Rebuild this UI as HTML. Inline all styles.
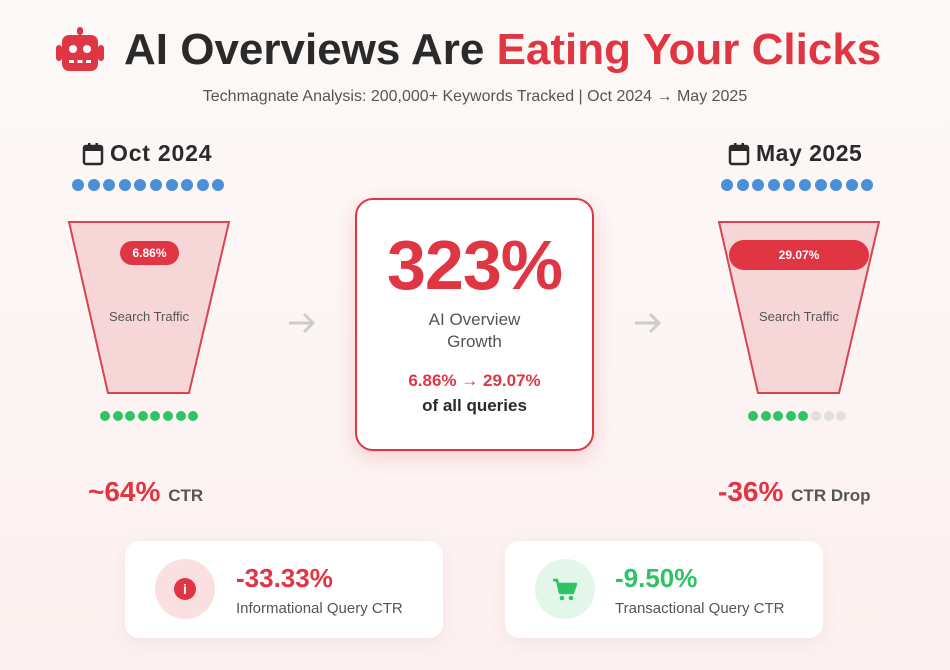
<!DOCTYPE html>
<html><head><meta charset="utf-8"><style>
*{margin:0;padding:0;box-sizing:border-box}
body{width:950px;height:670px;overflow:hidden;font-family:"Liberation Sans",sans-serif;background:linear-gradient(#fcf9f7,#fcf1f0);position:relative}
.a{position:absolute;white-space:nowrap}
.red{color:#e03644}
.dots{position:absolute;display:flex}
.dots i{display:block;border-radius:50%}
.b i{width:12px;height:12px;margin-right:3.6px;background:#4a90d9}
.g i{width:10px;height:10px;margin-right:2.6px;background:#2ec464}
.g i.x{background:#e0e0e0}
.card{position:absolute;background:#fff;border-radius:14px;box-shadow:0 4px 16px rgba(200,150,150,.15)}
</style></head><body>
<svg class="a" style="left:55px;top:27px" width="50" height="50" viewBox="0 0 50 50">
<rect x="22" y="0" width="6" height="8" rx="3" fill="#e03644"/>
<rect x="7" y="8" width="36" height="36" rx="7" fill="#e03644"/>
<rect x="1" y="18" width="6" height="16" rx="3" fill="#e03644"/><rect x="43" y="18" width="6" height="16" rx="3" fill="#e03644"/>
<circle cx="18" cy="22" r="4" fill="#fff"/><circle cx="32" cy="22" r="4" fill="#fff"/>
<rect x="14" y="33" width="5" height="3" fill="#fff"/><rect x="22.5" y="33" width="5" height="3" fill="#fff"/><rect x="31" y="33" width="5" height="3" fill="#fff"/>
</svg>
<div class="a" style="left:124px;top:25px;font-size:44px;font-weight:bold;color:#2a2a2a">AI Overviews Are <span class="red">Eating Your Clicks</span></div>
<div class="a" style="left:0;width:950px;text-align:center;top:88px;font-size:16px;color:#555">Techmagnate Analysis: 200,000+ Keywords Tracked | Oct 2024 → May 2025</div>

<svg class="a" style="left:82px;top:142px" width="22" height="24" viewBox="0 0 22 24"><rect x="2" y="4" width="18" height="18" rx="2" fill="none" stroke="#2a2a2a" stroke-width="2.5"/><rect x="2" y="4" width="18" height="5" fill="#2a2a2a"/><rect x="6" y="1" width="2.5" height="5" fill="#2a2a2a"/><rect x="13.5" y="1" width="2.5" height="5" fill="#2a2a2a"/></svg>
<div class="a" style="left:110px;top:140px;font-size:23px;font-weight:bold;color:#2a2a2a;letter-spacing:.8px">Oct 2024</div>
<div class="dots b" style="left:72px;top:179px"><i></i><i></i><i></i><i></i><i></i><i></i><i></i><i></i><i></i><i></i></div>
<svg class="a" style="left:0;top:0" width="950" height="670">
<polygon points="69,222 229,222 189,393 108,393" fill="#f7d6d8" stroke="#d84450" stroke-width="2"/>
<polygon points="719,222 879,222 839,393 758,393" fill="#f7d6d8" stroke="#d84450" stroke-width="2"/>
<path d="M289 323h24m-9-9l9 9-9 9" fill="none" stroke="#ccc" stroke-width="3"/>
<path d="M635 323h24m-9-9l9 9-9 9" fill="none" stroke="#ccc" stroke-width="3"/>
</svg>
<div class="a" style="left:120px;top:241px;width:59px;height:24px;border-radius:12px;background:#e03644;color:#fff;font-size:12px;font-weight:bold;text-align:center;line-height:24px">6.86%</div>
<div class="a" style="left:69px;width:160px;text-align:center;top:309px;font-size:13px;color:#555">Search Traffic</div>
<div class="dots g" style="left:100px;top:411px"><i></i><i></i><i></i><i></i><i></i><i></i><i></i><i></i></div>
<div class="a" style="left:88px;top:476px;font-size:28px;font-weight:bold" ><span class="red">~64%</span> <span style="font-size:17px;color:#555">CTR</span></div>

<div class="a" style="left:355px;top:198px;width:239px;height:253px;border:2px solid #e03644;border-radius:18px;background:#fff;box-shadow:0 6px 20px rgba(224,54,68,.2)"></div>
<div class="a red" style="left:355px;width:239px;text-align:center;top:225px;font-size:70px;font-weight:bold;letter-spacing:-1px">323%</div>
<div class="a" style="left:355px;width:239px;text-align:center;top:309px;font-size:17px;color:#555;line-height:22px;white-space:normal">AI Overview<br>Growth</div>
<div class="a red" style="left:355px;width:239px;text-align:center;top:371px;font-size:17px;font-weight:bold">6.86% → 29.07%</div>
<div class="a" style="left:355px;width:239px;text-align:center;top:396px;font-size:17px;font-weight:bold;color:#2a2a2a">of all queries</div>

<svg class="a" style="left:728px;top:142px" width="22" height="24" viewBox="0 0 22 24"><rect x="2" y="4" width="18" height="18" rx="2" fill="none" stroke="#2a2a2a" stroke-width="2.5"/><rect x="2" y="4" width="18" height="5" fill="#2a2a2a"/><rect x="6" y="1" width="2.5" height="5" fill="#2a2a2a"/><rect x="13.5" y="1" width="2.5" height="5" fill="#2a2a2a"/></svg>
<div class="a" style="left:756px;top:140px;font-size:23px;font-weight:bold;color:#2a2a2a;letter-spacing:.5px">May 2025</div>
<div class="dots b" style="left:721px;top:179px"><i></i><i></i><i></i><i></i><i></i><i></i><i></i><i></i><i></i><i></i></div>
<div class="a" style="left:729px;top:240px;width:140px;height:30px;border-radius:15px;background:#e03644;color:#fff;font-size:12px;font-weight:bold;text-align:center;line-height:30px">29.07%</div>
<div class="a" style="left:719px;width:160px;text-align:center;top:309px;font-size:13px;color:#555">Search Traffic</div>
<div class="dots g" style="left:748px;top:411px"><i></i><i></i><i></i><i></i><i></i><i class="x"></i><i class="x"></i><i class="x"></i></div>
<div class="a" style="left:718px;top:476px;font-size:28px;font-weight:bold"><span class="red">-36%</span> <span style="font-size:17px;color:#555">CTR Drop</span></div>

<div class="card" style="left:125px;top:541px;width:318px;height:97px"></div>
<div class="a" style="left:155px;top:559px;width:60px;height:60px;border-radius:50%;background:#fbe0e1"></div>
<div class="a" style="left:174px;top:578px;width:22px;height:22px;border-radius:50%;background:#e03644;color:#fff;font-size:14px;font-weight:bold;text-align:center;line-height:22px">i</div>
<div class="a red" style="left:236px;top:563px;font-size:26px;font-weight:bold">-33.33%</div>
<div class="a" style="left:236px;top:600px;font-size:15px;color:#555">Informational Query CTR</div>

<div class="card" style="left:505px;top:541px;width:318px;height:97px"></div>
<div class="a" style="left:535px;top:559px;width:60px;height:60px;border-radius:50%;background:#e2f6e9"></div>
<svg class="a" style="left:552px;top:578px" width="26" height="24" viewBox="0 0 26 24"><path d="M1 2h4l3 13h13l3-9H7" fill="#2ec464" stroke="#2ec464" stroke-width="2.5" stroke-linejoin="round"/><circle cx="10" cy="20" r="2.3" fill="#2ec464"/><circle cx="19" cy="20" r="2.3" fill="#2ec464"/></svg>
<div class="a" style="left:615px;top:563px;font-size:26px;font-weight:bold;color:#2ec464">-9.50%</div>
<div class="a" style="left:615px;top:600px;font-size:15px;color:#555">Transactional Query CTR</div>
</body></html>
